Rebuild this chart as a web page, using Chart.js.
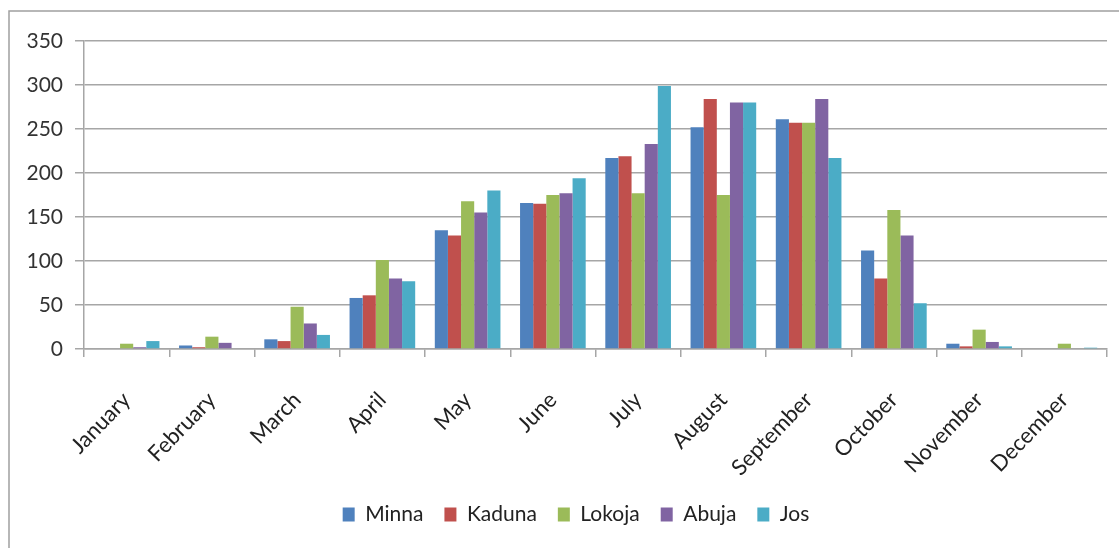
<!DOCTYPE html>
<html>
<head>
<meta charset="utf-8">
<script src="https://cdn.jsdelivr.net/npm/chart.js@4.4.1/dist/chart.umd.min.js"></script>
<style>
  html, body { margin: 0; padding: 0; background: #fff; }
  #wrap { width: 1119px; height: 548px; }
</style>
</head>
<body>
<div id="wrap"><canvas id="myChart" width="1119" height="548"></canvas></div>
<script>
// monthly values per station
var months = ['January', 'February', 'March', 'April', 'May', 'June', 'July',
    'August', 'September', 'October', 'November', 'December'];
var minna  = [0, 4, 11, 58, 135, 166, 217, 252, 261, 112, 6, 0];
var kaduna = [0, 2, 9, 61, 129, 165, 219, 284, 257, 80, 3, 0];
var lokoja = [6, 14, 48, 101, 168, 175, 177, 175, 257, 158, 22, 6];
var abuja  = [2, 7, 29, 80, 155, 177, 233, 280, 284, 129, 8, 0];
var jos    = [9, 0, 16, 77, 180, 194, 299, 280, 217, 52, 3, 1.5];
var yTicks = [0, 50, 100, 150, 200, 250, 300, 350];

var gridColor = '#a6a6a6';
var fontFamily = 'Lato, "Open Sans", sans-serif';

// thin frame round the chart (top and left edges, as in the source)
var frame = {
    id: 'frame',
    afterLayout: function (chart) {
        // legend sits a bit right of the plot centre in the original
        chart.legend.left += 18;
        chart.legend.right += 18;
    },
    beforeDraw: function (chart) {
        var c = chart.ctx;
        c.save();
        c.strokeStyle = '#a0a0a0';
        c.lineWidth = 1.5;
        c.beginPath();
        c.moveTo(9, 560);
        c.lineTo(9, 11);
        c.lineTo(1130, 11);
        c.stroke();
        c.restore();
    }
};

function ds(label, color, values) {
    return {
        label: label,
        backgroundColor: color,
        borderWidth: 0,
        data: values
    };
}

var ctx = document.getElementById('myChart');
var myChart = new Chart(ctx, {
    type: 'bar',
    data: {
        labels: months,
        datasets: [
            ds('Minna', '#4f81bd', minna),
            ds('Kaduna', '#c0504d', kaduna),
            ds('Lokoja', '#9bbb59', lokoja),
            ds('Abuja', '#8064a2', abuja),
            ds('Jos', '#4bacc6', jos)
        ]
    },
    options: {
        responsive: false,
        animation: false,
        devicePixelRatio: 1,
        categoryPercentage: 0.77,
        barPercentage: 1,
        layout: { padding: { left: 9, top: 41, right: 12, bottom: 13 } },
        plugins: {
            tooltip: { enabled: false },
            legend: {
                position: 'bottom',
                labels: {
                    boxWidth: 12,
                    boxHeight: 14,
                    padding: 21,
                    color: '#222',
                    font: { family: fontFamily, size: 21 }
                }
            }
        },
        scales: {
            x: {
                grid: {
                    offset: true,
                    drawOnChartArea: false,
                    drawTicks: true,
                    tickLength: 8,
                    color: gridColor,
                    lineWidth: 1.5
                },
                border: { color: gridColor, width: 1.5 },
                ticks: {
                    minRotation: 46,
                    maxRotation: 46,
                    padding: 30,
                    color: '#222',
                    font: { family: fontFamily, size: 22 }
                },
                afterFit: function (scale) { scale.height = 134; }
            },
            y: {
                min: 0,
                max: 350,
                afterBuildTicks: function (scale) {
                    scale.ticks = yTicks.map(function (v) { return { value: v }; });
                },
                grid: {
                    color: gridColor,
                    lineWidth: 1.5,
                    tickLength: 9
                },
                border: { color: gridColor, width: 1.5 },
                ticks: {
                    padding: 12,
                    color: '#333',
                    font: { family: fontFamily, size: 21 }
                },
                afterFit: function (scale) { scale.width = 75; }
            }
        }
    },
    plugins: [frame]
});
</script>
</body>
</html>
